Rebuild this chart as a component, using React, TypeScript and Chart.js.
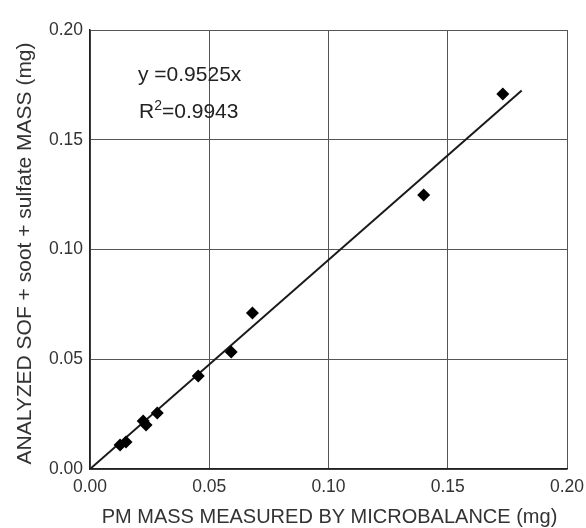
import React, { useEffect, useRef } from "react";
import { Chart, registerables } from "chart.js";

Chart.register(...registerables);

const measuredX = [0.0126, 0.0151, 0.0223, 0.0235, 0.0282, 0.0454, 0.0592, 0.0681, 0.1399, 0.1731];
const analyzedY = [0.0109, 0.0123, 0.0219, 0.0200, 0.0255, 0.0424, 0.0533, 0.0711, 0.1248, 0.1708];
const fitSlope = 0.9525;
const fitRange = [0, 0.181];
const tickValues = [0, 0.05, 0.1, 0.15, 0.2];
const eqText = "y =0.9525x";
const r2Text = "=0.9943";
const xTitle = "PM MASS MEASURED BY MICROBALANCE (mg)";
const yTitle = "ANALYZED SOF + soot + sulfate MASS (mg)";

const FONT = "'Liberation Sans', Arial, sans-serif";

export default function App() {
  const ref = useRef<HTMLCanvasElement | null>(null);
  useEffect(() => {
    if (!ref.current) return;
    const annot = {
      id: "annot",
      afterDatasetsDraw(chart: any) {
        const ctx = chart.ctx;
        const area = chart.chartArea;
        ctx.save();
        ctx.fillStyle = "#222";
        ctx.textBaseline = "alphabetic";
        ctx.textAlign = "left";
        ctx.font = `21px ${FONT}`;
        ctx.fillText(eqText, 138, 81);
        ctx.fillText("R", 139, 118);
        const rw = ctx.measureText("R").width;
        ctx.font = `14px ${FONT}`;
        ctx.fillText("2", 139 + rw, 110);
        const sw = ctx.measureText("2").width;
        ctx.font = `21px ${FONT}`;
        ctx.fillText(r2Text, 139 + rw + sw, 118);
        // axis titles
        ctx.fillStyle = "#333";
        ctx.textAlign = "center";
        ctx.font = `20px ${FONT}`;
        ctx.fillText(xTitle, (area.left + area.right) / 2 + 1, 523);
        ctx.translate(31, (area.top + area.bottom) / 2 + 4);
        ctx.rotate(-Math.PI / 2);
        ctx.font = `21px ${FONT}`;
        ctx.fillText(yTitle, 0, 0);
        ctx.restore();
      },
    };
    const chart = new Chart(ref.current, {
      type: "scatter",
      data: {
        datasets: [
          {
            label: "data",
            data: measuredX.map((x, i) => ({ x, y: analyzedY[i] })),
            pointStyle: "rectRot",
            pointRadius: 6.5,
            backgroundColor: "#000",
            borderColor: "#000",
            borderWidth: 0,
          },
          {
            label: "fit",
            type: "line",
            data: fitRange.map((x) => ({ x, y: x * fitSlope })),
            borderColor: "#1a1a1a",
            borderWidth: 2,
            pointRadius: 0,
            fill: false,
          } as any,
        ],
      },
      plugins: [annot],
      options: {
        animation: false,
        responsive: false,
        maintainAspectRatio: false,
        layout: { padding: { top: 30, right: 19, left: 0, bottom: 0 } },
        plugins: { legend: { display: false }, tooltip: { enabled: false } },
        scales: {
          x: {
            type: "linear",
            min: 0,
            max: 0.2,
            afterBuildTicks: (s: any) => {
              s.ticks = tickValues.map((v) => ({ value: v }));
            },
            afterFit: (s: any) => {
              s.height = 59;
              s.paddingLeft = 0;
              s.paddingRight = 0;
            },
            ticks: {
              callback: (v: any) => Number(v).toFixed(2),
              color: "#333",
              font: { family: FONT, size: 17.5 },
              padding: 8,
              maxRotation: 0,
            },
            grid: { color: "#555", lineWidth: 1, drawTicks: false },
            border: { color: "#222", width: 1.5 },
            title: { display: false },
          },
          y: {
            type: "linear",
            min: 0,
            max: 0.2,
            afterBuildTicks: (s: any) => {
              s.ticks = tickValues.map((v) => ({ value: v }));
            },
            afterFit: (s: any) => {
              s.width = 90;
              s.paddingTop = 0;
              s.paddingBottom = 0;
            },
            ticks: {
              callback: (v: any) => Number(v).toFixed(2),
              color: "#333",
              font: { family: FONT, size: 17.5 },
              padding: 7,
            },
            grid: { color: "#555", lineWidth: 1, drawTicks: false },
            border: { color: "#222", width: 1.5 },
            title: { display: false },
          },
        },
      },
    });
    return () => chart.destroy();
  }, []);
  return (
    <div style={{ position: "fixed", left: 0, top: 0, width: 586, height: 528, background: "#fff" }}>
      <canvas ref={ref} width={586} height={528} style={{ width: 586, height: 528, display: "block" }} />
    </div>
  );
}
